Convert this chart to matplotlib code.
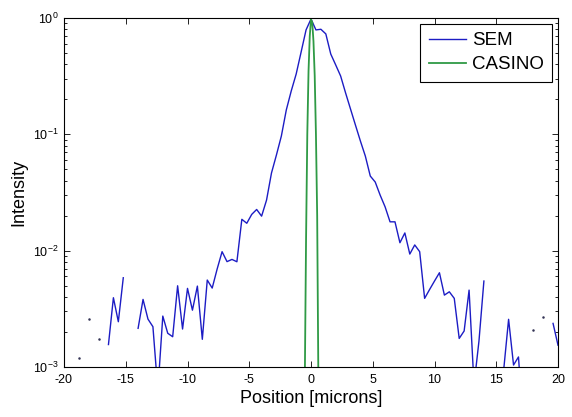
import numpy as np
import matplotlib
matplotlib.use("Agg")
import matplotlib.pyplot as plt

plt.rcParams['font.family'] = ['Liberation Sans', 'DejaVu Sans']
plt.rcParams['mathtext.default'] = 'regular'
plt.rcParams['axes.unicode_minus'] = False

nan = np.nan

# SEM profile, sampled every 0.4 micron
sem_position = [
    -20.0, -19.6, -19.2, -18.8, -18.4, -18.0, -17.6, -17.2, -16.8, -16.4,
    -16.0, -15.6, -15.2, -14.8, -14.4, -14.0, -13.6, -13.2, -12.8, -12.4,
    -12.0, -11.6, -11.2, -10.8, -10.4, -10.0, -9.6, -9.2, -8.8, -8.4,
    -8.0, -7.6, -7.2, -6.8, -6.4, -6.0, -5.6, -5.2, -4.8, -4.4,
    -4.0, -3.6, -3.2, -2.8, -2.4, -2.0, -1.6, -1.2, -0.8, -0.4,
    0.0, 0.4, 0.8, 1.2, 1.6, 2.0, 2.4, 2.8, 3.2, 3.6,
    4.0, 4.4, 4.8, 5.2, 5.6, 6.0, 6.4, 6.8, 7.2, 7.6,
    8.0, 8.4, 8.8, 9.2, 9.6, 10.0, 10.4, 10.8, 11.2, 11.6,
    12.0, 12.4, 12.8, 13.2, 13.6, 14.0, 14.4, 14.8, 15.2, 15.6,
    16.0, 16.4, 16.8, 17.2, 17.6, 18.0, 18.4, 18.8, 19.2, 19.6,
    20.0,
]
sem_intensity = [
    nan, nan, nan, 1.19e-3, nan, 2.58e-3, nan, 1.74e-3, nan, 1.56e-3,
    3.94e-3, 2.45e-3, 5.85e-3, nan, nan, 2.15e-3, 3.81e-3, 2.58e-3, 2.22e-3, 6.3e-4,
    2.74e-3, 1.95e-3, 1.82e-3, 4.99e-3, 2.12e-3, 4.74e-3, 3.08e-3, 4.96e-3, 1.73e-3, 5.59e-3,
    4.77e-3, 6.95e-3, 9.8e-3, 8.05e-3, 8.41e-3, 8.03e-3, 1.86e-2, 1.72e-2, 2.05e-2, 2.26e-2,
    1.98e-2, 2.72e-2, 4.65e-2, 6.64e-2, 9.67e-2, 0.162, 0.236, 0.33, 0.51, 0.79,
    0.98, 0.79, 0.80, 0.73, 0.49, 0.395, 0.317, 0.227, 0.165, 0.12,
    0.0876, 0.065, 0.0438, 0.0389, 0.030, 0.0238, 0.0177, 0.0177, 0.0117, 0.0142,
    0.00935, 0.0112, 0.0098, 0.00389, 0.00463, 0.00548, 0.00646, 0.00415, 0.00443, 0.00389,
    0.00176, 0.00204, 0.00458, 7e-4, 0.00167, 0.00548, nan, nan, nan, 9.4e-4,
    2.57e-3, 1.04e-3, 1.22e-3, 3e-4, nan, 2.08e-3, nan, 2.67e-3, nan, 2.37e-3,
    1.54e-3,
]

# CASINO simulated profile
casino_position = [-0.6, -0.5, -0.4, -0.3, -0.2, -0.1, 0.0, 0.1, 0.2, 0.3, 0.4, 0.5, 0.6, 0.7]
casino_intensity = [1.2e-4, 8e-4, 1.26e-2, 0.1, 0.35, 0.7, 0.97, 0.92, 0.63, 0.32, 0.1, 0.02, 7e-4, 1e-4]

series_labels = ['SEM', 'CASINO']
x_ticks = [-20, -15, -10, -5, 0, 5, 10, 15, 20]

sem_color = '#1c1cc4'
casino_color = '#2f9a45'

fig = plt.figure(figsize=(5.72, 4.17), dpi=100)
ax = fig.add_axes([64/572, 1 - 367/417, (558 - 64)/572, (367 - 18)/417])

xs = np.array(sem_position)
ys = np.array(sem_intensity, dtype=float)
ax.semilogy(xs, ys, color=sem_color, lw=1.0, label=series_labels[0])
ax.semilogy(casino_position, casino_intensity, color=casino_color, lw=1.3, label=series_labels[1])

# isolated samples (no finite neighbours) show as single dots
fin = np.isfinite(ys)
prev_fin = np.concatenate([[False], fin[:-1]])
next_fin = np.concatenate([fin[1:], [False]])
iso = fin & ~prev_fin & ~next_fin
ax.plot(xs[iso], ys[iso], linestyle='none', marker='o', markersize=1.8,
        color='#333355', markeredgewidth=0)

ax.set_xlim(-20, 20)
ax.set_ylim(1e-3, 1)
ax.set_xticks(x_ticks)
ax.set_xticklabels([str(t) for t in x_ticks])

ax.tick_params(which='both', direction='in', top=True, right=True, labelsize=9)
ax.tick_params(which='major', length=4, width=0.6)
ax.tick_params(which='minor', length=2.2, width=0.6)
ax.tick_params(axis='x', pad=5)
ax.tick_params(axis='y', pad=4)
for s in ax.spines.values():
    s.set_linewidth(0.8)

ax.set_xlabel('Position [microns]', fontsize=13, labelpad=3)
ax.set_ylabel('Intensity', fontsize=13, labelpad=4)

leg = ax.legend(loc='upper right', bbox_to_anchor=(0.988, 0.983), borderaxespad=0,
                fontsize=13.5, fancybox=False, edgecolor='black', framealpha=1,
                handlelength=2.0, handletextpad=0.3, labelspacing=0.35, borderpad=0.45)
leg.get_frame().set_linewidth(0.8)

fig.savefig('out.png', dpi=100, facecolor='white')
